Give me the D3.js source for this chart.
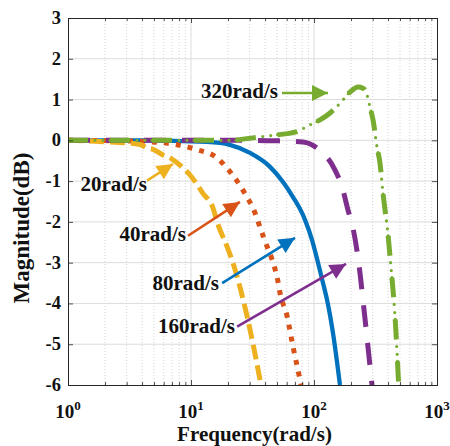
<!DOCTYPE html>
<html>
<head>
<meta charset="utf-8">
<script src="https://cdn.jsdelivr.net/npm/d3@7"></script>
<style>
  html, body { margin: 0; padding: 0; background: #fff; }
  svg text { font-family: "Liberation Serif", "Times New Roman", serif; font-weight: bold; fill: #111; }
</style>
</head>
<body>
<svg id="chart" width="450" height="446"></svg>
<script>
// Frequency response magnitudes (rad/s, dB) for the five bandwidth settings
const freq20 = [1, 1.82, 3.85, 4.39, 4.91, 5.92, 6.75, 7.7, 9.82, 12.5, 15.1, 16.3, 19.6, 21.9, 28.5, 37.1];
const mag20  = [0, -0.03, -0.1, -0.19, -0.22, -0.36, -0.43, -0.55, -0.85, -1.3, -1.66, -2.0, -2.6, -3.0, -4.3, -6.0];

const freq40 = [1, 3.85, 4.91, 7.14, 11.2, 16.3, 19.6, 23.7, 28.5, 31.9, 37.8, 41.5, 45.6, 51.0, 52.9, 60.3, 67.5, 76.9, 78.4];
const mag40  = [0, -0.02, -0.04, -0.09, -0.23, -0.43, -0.68, -1.0, -1.39, -1.66, -2.27, -2.6, -2.92, -3.47, -3.74, -4.3, -5.06, -5.87, -6.0];

const freq80 = [1, 3.85, 13.5, 20.7, 30.2, 43.9, 56.0, 67.5, 79.9, 84.5, 96.3, 107.8, 118.4, 127.6, 142.6, 162.6];
const mag80  = [0, 0, -0.04, -0.11, -0.31, -0.65, -1.02, -1.39, -1.78, -1.95, -2.44, -3.0, -3.5, -3.91, -4.72, -6.0];

const freq160 = [1, 30.2, 48.2, 81.4, 105.7, 148.3, 169, 189, 207.5, 232, 255, 280, 296];
const mag160  = [0, 0, -0.01, -0.04, -0.19, -0.73, -1.14, -1.71, -2.15, -3.05, -4.15, -5.3, -6.0];

const freq320 = [1, 20.7, 35.1, 48.2, 70.1, 92.7, 112, 135, 163, 196, 228, 250, 270, 285, 302, 325, 344, 364, 378, 400, 415, 431, 447, 460, 473, 487, 491];
const mag320  = [0, 0, 0.08, 0.13, 0.2, 0.38, 0.5, 0.67, 0.91, 1.18, 1.31, 1.28, 1.11, 0.82, 0.5, -0.16, -0.56, -1.3, -1.71, -2.32, -2.85, -3.4, -3.96, -4.52, -5.18, -5.9, -6.0];

// Axis ticks
const xTickExp = [0, 1, 2, 3];
const yTicks = [-6, -5, -4, -3, -2, -1, 0, 1, 2, 3];

// Callout labels: text, label anchor (freq, dB), arrow tail and tip (freq, dB)
const labelText  = ["20rad/s", "40rad/s", "80rad/s", "160rad/s", "320rad/s"];
const labelFreq  = [4.39, 9.1, 16.9, 22.8, 51];
const labelMag   = [-1.24, -2.46, -3.67, -4.72, 1.04];
const arrowTail  = [[4.39, -0.99], [9.46, -2.34], [17.9, -3.5], [23.7, -4.57], [54.9, 1.16]];
const arrowTip   = [[7.14, -0.58], [25.0, -1.51], [70.1, -2.39], [182, -3.03], [130, 1.16]];

const colors = { b: "#0072BD", r: "#D95319", y: "#EDB120", p: "#7E2F8E", g: "#77AC30" };

// Each series may be stroked in more than one pass (the dash-dot line uses a dash pass and a dot pass)
const series = [
  { f: freq80,  m: mag80,  color: colors.b, passes: [{ width: 4.3, dash: null, cap: "butt" }] },
  { f: freq40,  m: mag40,  color: colors.r, passes: [{ width: 5, dash: "5,7", cap: "butt" }] },
  { f: freq20,  m: mag20,  color: colors.y, passes: [{ width: 5, dash: "15,6", cap: "butt" }] },
  { f: freq160, m: mag160, color: colors.p, passes: [{ width: 5, dash: "22,16", cap: "butt" }] },
  { f: freq320, m: mag320, color: colors.g, passes: [
      { width: 5, dash: "20,22", cap: "butt" },
      { width: 3.2, dash: "0,27,0,8,0,7", cap: "round" }
  ] }
];
const arrowColor = [colors.y, colors.r, colors.b, colors.p, colors.g];

const L = 68, R = 437, T = 18, B = 385;
const svg = d3.select("#chart");
const x = d3.scaleLog().domain([1, 1000]).range([L, R]);
const y = d3.scaleLinear().domain([-6, 3]).range([B, T]);

// Grid: minor (dotted) on x, major (solid) on both axes
const minorX = [];
for (let e = 0; e < 3; e++) for (let k = 2; k <= 9; k++) minorX.push(k * Math.pow(10, e));
const grid = svg.append("g");
grid.selectAll(".mx").data(minorX).join("line")
  .attr("x1", d => x(d)).attr("x2", d => x(d)).attr("y1", T).attr("y2", B)
  .attr("stroke", "#c8c8c8").attr("stroke-width", 0.8).attr("stroke-dasharray", "1,2");
grid.selectAll(".Mx").data(xTickExp.slice(1, -1)).join("line")
  .attr("x1", d => x(Math.pow(10, d))).attr("x2", d => x(Math.pow(10, d))).attr("y1", T).attr("y2", B)
  .attr("stroke", "#dcdcdc").attr("stroke-width", 1);
grid.selectAll(".My").data(yTicks.slice(1, -1)).join("line")
  .attr("x1", L).attr("x2", R).attr("y1", d => y(d)).attr("y2", d => y(d))
  .attr("stroke", "#dcdcdc").attr("stroke-width", 1);

// Curves
svg.append("clipPath").attr("id", "plotclip").append("rect")
  .attr("x", L).attr("y", T).attr("width", R - L).attr("height", B - T);
const line = d3.line().x(d => x(d[0])).y(d => y(d[1])).curve(d3.curveMonotoneX);
const curves = svg.append("g").attr("clip-path", "url(#plotclip)");
series.forEach(s => {
  const pts = s.f.map((f, i) => [f, s.m[i]]);
  s.passes.forEach(p => {
    curves.append("path")
      .datum(pts)
      .attr("d", line)
      .attr("fill", "none")
      .attr("stroke", s.color)
      .attr("stroke-width", p.width)
      .attr("stroke-dasharray", p.dash)
      .attr("stroke-linecap", p.cap)
      .attr("stroke-linejoin", "round");
  });
});

// Axes with inward ticks on all four sides
const frameColor = "#262626";
const axB = d3.axisBottom(x).tickValues(xTickExp.map(e => Math.pow(10, e))).tickSize(-5).tickFormat("");
const axT = d3.axisTop(x).tickValues(xTickExp.map(e => Math.pow(10, e))).tickSize(-5).tickFormat("");
const axBm = d3.axisBottom(x).tickValues(minorX).tickSize(-3).tickFormat("");
const axTm = d3.axisTop(x).tickValues(minorX).tickSize(-3).tickFormat("");
const axL = d3.axisLeft(y).tickValues(yTicks).tickSize(-5).tickFormat("");
const axR = d3.axisRight(y).tickValues(yTicks).tickSize(-5).tickFormat("");
[[axB, `translate(0,${B})`], [axBm, `translate(0,${B})`], [axT, `translate(0,${T})`], [axTm, `translate(0,${T})`],
 [axL, `translate(${L},0)`], [axR, `translate(${R},0)`]].forEach(([a, tr]) => {
  const g = svg.append("g").attr("transform", tr).call(a);
  g.select(".domain").attr("stroke", frameColor).attr("stroke-width", 1);
  g.selectAll(".tick line").attr("stroke", frameColor).attr("stroke-width", 0.8);
});

// Tick labels
svg.selectAll(".ylab").data(yTicks).join("text")
  .attr("x", L - 7).attr("y", d => y(d) + 6)
  .attr("text-anchor", "end").attr("font-size", 18.5)
  .text(d => d);
const xl = svg.selectAll(".xlab").data(xTickExp).join("text")
  .attr("x", d => x(Math.pow(10, d))).attr("y", 418)
  .attr("text-anchor", "middle").attr("font-size", 19);
xl.append("tspan").text("10");
xl.append("tspan").attr("dy", -8).attr("font-size", 13).text(d => d);

// Axis titles
svg.append("text").attr("x", (L + R) / 2 + 2).attr("y", 441)
  .attr("text-anchor", "middle").attr("font-size", 21).text("Frequency(rad/s)");
svg.append("text").attr("transform", "translate(29,228) rotate(-90)")
  .attr("text-anchor", "middle").attr("font-size", 23).text("Magnitude(dB)");

// Callouts
const defs = svg.append("defs");
arrowColor.forEach((c, i) => {
  defs.append("marker").attr("id", "ah" + i)
    .attr("viewBox", "0 0 10 10").attr("refX", 10).attr("refY", 5)
    .attr("markerUnits", "userSpaceOnUse").attr("markerWidth", 18).attr("markerHeight", 16)
    .attr("orient", "auto")
    .append("path").attr("d", "M0,0 L10,5 L0,10 Z").attr("fill", c);
});
labelText.forEach((t, i) => {
  svg.append("line")
    .attr("x1", x(arrowTail[i][0])).attr("y1", y(arrowTail[i][1]))
    .attr("x2", x(arrowTip[i][0])).attr("y2", y(arrowTip[i][1]))
    .attr("stroke", arrowColor[i]).attr("stroke-width", 2.6)
    .attr("marker-end", `url(#ah${i})`);
  svg.append("text")
    .attr("x", x(labelFreq[i])).attr("y", y(labelMag[i]))
    .attr("text-anchor", "end").attr("font-size", 21).text(t);
});
</script>
</body>
</html>
